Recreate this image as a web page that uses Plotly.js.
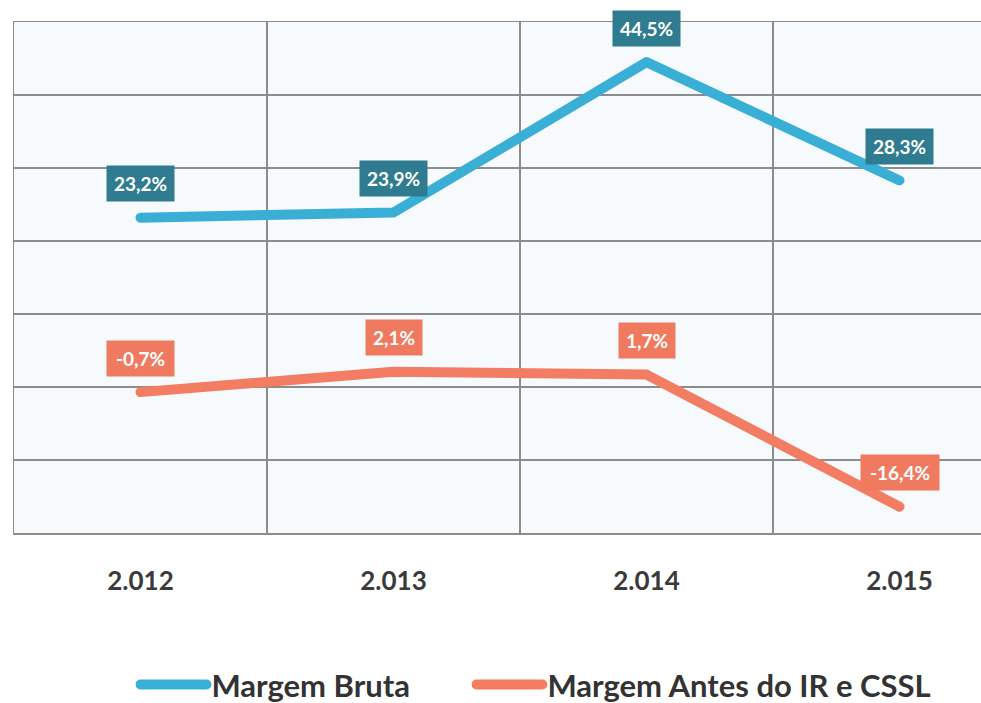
<!DOCTYPE html>
<html>
<head>
<meta charset="utf-8">
<script src="https://cdn.plot.ly/plotly-3.0.1.min.js"></script>
<style>
html,body{margin:0;padding:0;overflow:hidden;background:#fff;}
#chart{width:1040px;height:760px;}
.scatterlayer path.js-line,.legendlines path{stroke-linecap:round;stroke-linejoin:round;}
</style>
</head>
<body>
<div id="chart"></div>
<script>
const years = ["2.012", "2.013", "2.014", "2.015"];
const margemBruta = [23.2, 23.9, 44.5, 28.3];
const margemAntes = [-0.7, 2.1, 1.7, -16.4];
const nameBruta = "Margem Bruta";
const nameAntes = "Margem Antes do IR e CSSL";

const blueLine = "#3AAFD6", blueBox = "#2F7B8F";
const orangeLine = "#F27D62", orangeBox = "#F07A5F";

function fmt(v){ return v.toFixed(1).replace(".", ",") + "%"; }

const traces = [
  {x: years, y: margemBruta, name: nameBruta, type: "scatter", mode: "lines",
   line: {color: blueLine, width: 10}, hoverinfo: "skip", legend: "legend"},
  {x: years, y: margemAntes, name: nameAntes, type: "scatter", mode: "lines",
   line: {color: orangeLine, width: 10}, hoverinfo: "skip", legend: "legend2"}
];

const annotations = [];
function addLabels(vals, box, shift){
  vals.forEach((v, i) => {
    const t = fmt(v);
    annotations.push({
      x: i, y: v, xref: "x", yref: "y", text: t, showarrow: false,
      yshift: shift, bgcolor: box, borderpad: 0,
      width: t.length * 11 + 12, height: 35,
      font: {family: "Lato, sans-serif", size: 19, color: "#ffffff", weight: "bold"}
    });
  });
}
addLabels(margemBruta, blueBox, 34);
addLabels(margemAntes, orangeBox, 34);

const legendFont = {family: "Lato, sans-serif", size: 31, color: "#333333", weight: "bold"};
const layout = {
  width: 1040, height: 760,
  margin: {l: 14, r: 14, t: 22, b: 227},
  paper_bgcolor: "#ffffff",
  plot_bgcolor: "#F6FAFC",
  showlegend: true,
  legend: {orientation: "h", x: 0.12, xanchor: "left", y: -0.297, yanchor: "middle",
           itemwidth: 66, font: legendFont},
  legend2: {orientation: "h", x: 0.452, xanchor: "left", y: -0.297, yanchor: "middle",
           itemwidth: 66, font: legendFont},
  xaxis: {type: "category", range: [-0.5, 3.5], autorange: false, tickson: "boundaries", showgrid: true,
          gridcolor: "#8c8c8c", gridwidth: 1.5, showline: true, mirror: true,
          linecolor: "#8c8c8c", linewidth: 1.5, ticks: "", ticklabelstandoff: 24,
          fixedrange: true,
          tickfont: {family: "Lato, sans-serif", size: 26, color: "#3a3a3a", weight: "bold"}},
  yaxis: {range: [-20, 50], dtick: 10, tick0: 0, showgrid: true, gridcolor: "#8c8c8c",
          gridwidth: 1.5, zeroline: false, showticklabels: false, showline: true,
          mirror: true, linecolor: "#8c8c8c", linewidth: 1.5, fixedrange: true},
  annotations: annotations
};

Plotly.newPlot("chart", traces, layout, {displayModeBar: false, staticPlot: true});
</script>
</body>
</html>
